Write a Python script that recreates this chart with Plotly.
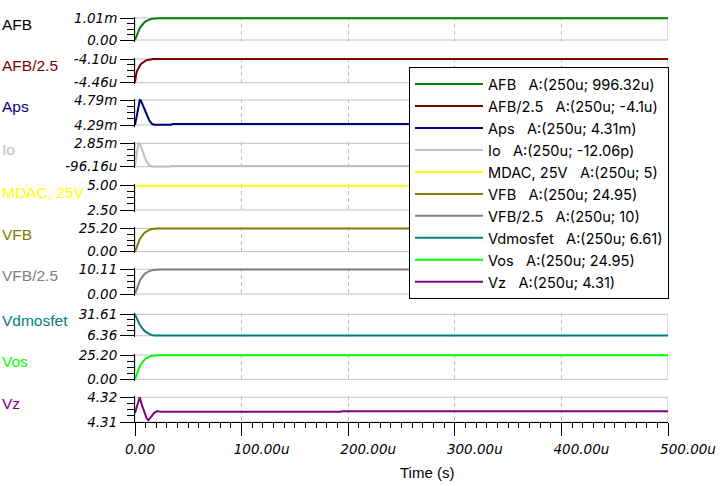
import plotly.graph_objects as go

# ---------------- data (time in microseconds, values in SI units) ----------------
t_afb = [0, 1, 2, 3, 4, 5, 6, 8, 10, 12, 14, 16, 18, 20, 22, 500]
afb = [0, 149e-6, 279e-6, 389e-6, 488e-6, 578e-6, 658e-6, 767e-6, 857e-6, 917e-6,
       947e-6, 971e-6, 986e-6, 996e-6, 996.32e-6, 996.32e-6]

t_afb25 = [0, 0.5, 1, 2, 3, 4, 5, 6, 8, 10, 12, 14, 17, 500]
afb25 = [-4.46e-6, -4.388e-6, -4.341e-6, -4.28e-6, -4.244e-6, -4.215e-6, -4.19e-6,
         -4.172e-6, -4.143e-6, -4.125e-6, -4.114e-6, -4.107e-6, -4.10e-6, -4.10e-6]

t_aps = [0, 1, 2, 3, 4, 4.5, 5.5, 7, 8.4, 10, 11.6, 13, 14.7, 16, 17.8, 20, 34, 35, 500]
aps = [4.29e-3, 4.40e-3, 4.53e-3, 4.66e-3, 4.76e-3, 4.79e-3, 4.78e-3, 4.70e-3, 4.61e-3,
       4.54e-3, 4.47e-3, 4.40e-3, 4.34e-3, 4.31e-3, 4.295e-3, 4.294e-3, 4.296e-3,
       4.31e-3, 4.31e-3]

t_io = [0, 1, 2, 3, 3.75, 5, 6.5, 8, 10, 12, 14, 16, 17.5, 20, 33, 34, 500]
io = [0, 1.1e-3, 2.2e-3, 2.75e-3, 2.85e-3, 2.65e-3, 2.1e-3, 1.5e-3, 0.8e-3, 0.3e-3,
      0.05e-3, -0.07e-3, -0.09616e-3, -0.08e-3, -0.07e-3, -12.06e-12, -12.06e-12]

t_mdac = [0, 500]
mdac = [5, 5]

t_vfb = [0, 1, 2, 3, 4, 5, 6, 8, 10, 12, 14, 16, 18, 20, 22, 500]
vfb = [0, 3.74, 6.99, 9.73, 12.23, 14.47, 16.47, 19.21, 21.46, 22.95, 23.70, 24.33,
       24.70, 24.92, 24.95, 24.95]

t_vfb25 = [0, 1, 2, 3, 4, 5, 6, 8, 10, 12, 14, 16, 18, 20, 22, 500]
vfb25 = [0, 1.50, 2.79, 3.89, 4.89, 5.79, 6.59, 7.68, 8.58, 9.18, 9.48, 9.73, 9.88,
         9.98, 10.0, 10.0]

t_vdm = [0, 1, 2, 3, 4, 5, 6, 8, 10, 12, 14, 16, 18, 500]
vdm = [31.61, 28.36, 25.36, 22.61, 20.36, 18.36, 16.36, 13.36, 10.86, 9.11, 7.86,
       7.11, 6.61, 6.61]

t_vos = [0, 1, 2, 3, 4, 5, 6, 8, 10, 12, 14, 16, 18, 20, 22, 500]
vos = [0, 3.74, 6.99, 9.73, 12.23, 14.47, 16.47, 19.21, 21.46, 22.95, 23.70, 24.33,
       24.70, 24.92, 24.95, 24.95]

t_vz = [0, 2, 4.4, 6.5, 9, 11, 12.5, 15, 18, 21, 24, 193, 194, 500]
vz = [4.3137, 4.3168, 4.3200, 4.3168, 4.3134, 4.3114, 4.3107, 4.3121, 4.3137, 4.3144,
      4.3141, 4.3141, 4.3144, 4.3144]

names = ["AFB", "AFB/2.5", "Aps", "Io", "MDAC, 25V", "VFB", "VFB/2.5", "Vdmosfet", "Vos", "Vz"]
legend_values = ["996.32u", "-4.1u", "4.31m", "-12.06p", "5", "24.95", "10", "6.61", "24.95", "4.31"]
colors = ["#008000", "#800000", "#000080", "#c0c0c0", "#ffff00", "#808000", "#808080",
          "#008080", "#00ff00", "#800080"]
label_colors = ["#000000", "#800000", "#000080", "#c0c0c0", "#ffff00", "#808000", "#808080",
                "#008080", "#00ff00", "#800080"]
y_lo = [0, -4.46e-6, 4.29e-3, -96.16e-6, 2.5, 0, 0, 6.36, 0, 4.31]
y_hi = [1.01e-3, -4.10e-6, 4.79e-3, 2.85e-3, 5.0, 25.2, 10.11, 31.61, 25.2, 4.32]
y_lo_text = ["0.00", "-4.46u", "4.29m", "-96.16u", "2.50", "0.00", "0.00", "6.36", "0.00", "4.31"]
y_hi_text = ["1.01m", "-4.10u", "4.79m", "2.85m", "5.00", "25.20", "10.11", "31.61", "25.20", "4.32"]
times = [t_afb, t_afb25, t_aps, t_io, t_mdac, t_vfb, t_vfb25, t_vdm, t_vos, t_vz]
series = [afb, afb25, aps, io, mdac, vfb, vfb25, vdm, vos, vz]

x_ticks_us = [0, 100, 200, 300, 400, 500]
x_tick_text = ["0.00" + "\u00a0" * 7, "100.00u", "200.00u", "300.00u", "400.00u", "500.00u"]

# ---------------- layout geometry (screen px) ----------------
FIG_W, FIG_H = 720, 486
ML, MR = 135, 52
PT_S, PB_S = 16, 422
MT = PT_S
MB = FIG_H - PB_S
PH = PB_S - PT_S
PW = FIG_W - ML - MR
box_top = [18, 59, 100, 143.3, 185.7, 228.3, 269.3, 314.3, 355, 397.3]
box_bot = [40, 82.7, 125, 166.7, 210, 251.7, 294, 335.7, 379.3, PB_S]
PAD = 1.5

TICK_FONT = dict(family="DejaVu Sans, Verdana, sans-serif", size=13.5, color="black", style="italic")
TEXT_FONT = "Liberation Sans, Arial, sans-serif"


def px_to_paper_y(py):
    return (PB_S - py) / PH


def px_to_paper_x(px):
    return (px - ML) / PW


fig = go.Figure()
n = len(names)
shapes = []
annotations = []
for i in range(n):
    k = i + 1
    xa = "x" if k == 1 else f"x{k}"
    ya = "y" if k == 1 else f"y{k}"
    fig.add_trace(go.Scatter(
        x=[v * 1e-6 for v in times[i]], y=series[i], mode="lines",
        line=dict(color=colors[i], width=2),
        name=f"{names[i]}\u00a0\u00a0\u00a0A:(250u; {legend_values[i]})",
        xaxis=xa, yaxis=ya, hoverinfo="skip"))

    last = (i == n - 1)
    pad_t = PAD
    pad_b = 0 if last else PAD
    dpp = (y_hi[i] - y_lo[i]) / (box_bot[i] - box_top[i])
    rng = [y_lo[i] - pad_b * dpp, y_hi[i] + pad_t * dpp]
    dom = [px_to_paper_y(box_bot[i] + pad_b), px_to_paper_y(box_top[i] - pad_t)]
    dom = [max(0, dom[0]), min(1, dom[1])]

    xaxis = dict(
        domain=[0, 1], anchor=ya, range=[0, 500e-6], automargin=False,
        tickvals=[v * 1e-6 for v in x_ticks_us],
        showgrid=True, gridcolor="#c0c0c0", griddash="4px,3px", gridwidth=1,
        zeroline=False, fixedrange=True,
    )
    if k > 1:
        xaxis["matches"] = "x"
    if last:
        xaxis.update(
            ticktext=x_tick_text, showticklabels=True, ticks="outside", ticklen=13,
            tickcolor="black", tickwidth=1, showline=True, linecolor="black", linewidth=1,
            tickfont=TICK_FONT, ticklabelshift=20, ticklabelstandoff=2,
            minor=dict(tickmode="linear", tick0=0, dtick=10e-6, ticks="outside",
                       ticklen=5, tickcolor="black", tickwidth=1, showgrid=False),
        )
    else:
        xaxis.update(showticklabels=False, ticks="", showline=False)
    yaxis = dict(
        domain=dom, anchor=xa, range=rng, automargin=False,
        tickvals=[y_lo[i], y_hi[i]], ticktext=[y_lo_text[i], y_hi_text[i]],
        ticks="outside", ticklen=14, tickcolor="black", tickwidth=1,
        showline=True, linecolor="black", linewidth=1,
        showgrid=False, zeroline=False, tickfont=TICK_FONT, fixedrange=True,
        minor=dict(tickmode="linear", tick0=y_lo[i], dtick=(y_hi[i] - y_lo[i]) / 4,
                   ticks="outside", ticklen=7, tickcolor="black", tickwidth=1, showgrid=False),
    )
    fig.update_layout(**{("xaxis" if k == 1 else f"xaxis{k}"): xaxis,
                         ("yaxis" if k == 1 else f"yaxis{k}"): yaxis})

    shapes.append(dict(type="rect", xref=xa, yref=ya, x0=0, x1=500e-6,
                       y0=y_lo[i], y1=y_hi[i], layer="below",
                       line=dict(color="#c0c0c0", width=1)))
    annotations.append(dict(
        text=names[i], xref="paper", yref="paper",
        x=px_to_paper_x(0), y=px_to_paper_y(box_top[i] + 6.5),
        xanchor="left", yanchor="middle", showarrow=False,
        font=dict(family=TEXT_FONT, size=15.5, color=label_colors[i])))

annotations.append(dict(
    text="Time (s)", xref="paper", yref="paper",
    x=px_to_paper_x(398), y=px_to_paper_y(472),
    xanchor="left", yanchor="middle", showarrow=False,
    font=dict(family=TEXT_FONT, size=15, color="black")))

fig.update_layout(
    width=FIG_W, height=FIG_H,
    margin=dict(l=ML, r=MR, t=MT, b=MB, pad=0, autoexpand=False),
    paper_bgcolor="white", plot_bgcolor="white",
    shapes=shapes, annotations=annotations,
    showlegend=True,
    legend=dict(
        x=px_to_paper_x(409), y=px_to_paper_y(67),
        xanchor="left", yanchor="top",
        bgcolor="white", bordercolor="black", borderwidth=1,
        font=dict(family="Inter, Liberation Sans, sans-serif", size=14.6, color="black"),
        itemwidth=68, tracegroupgap=0, traceorder="normal",
    ),
)

# remove the browser's default 8px body margin so the figure sits at the page origin
fig.write_html("out.html", config={"displayModeBar": False},
               post_script="document.body.style.margin='0';")
